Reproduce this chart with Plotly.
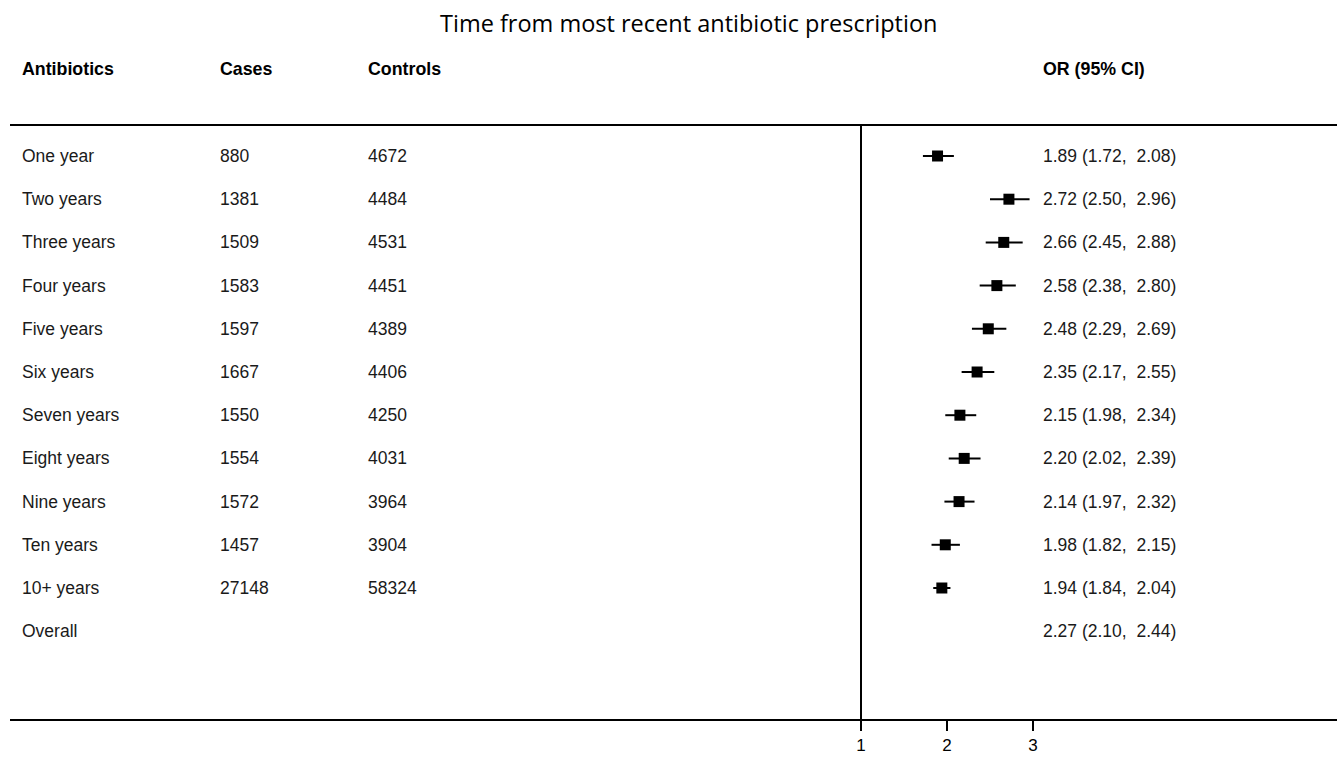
import plotly.graph_objects as go

labels = ["One year", "Two years", "Three years", "Four years", "Five years", "Six years",
          "Seven years", "Eight years", "Nine years", "Ten years", "10+ years", "Overall"]
cases = ["880", "1381", "1509", "1583", "1597", "1667", "1550", "1554", "1572", "1457", "27148", ""]
controls = ["4672", "4484", "4531", "4451", "4389", "4406", "4250", "4031", "3964", "3904", "58324", ""]
or_est = [1.89, 2.72, 2.66, 2.58, 2.48, 2.35, 2.15, 2.20, 2.14, 1.98, 1.94, 2.27]
ci_lo = [1.72, 2.50, 2.45, 2.38, 2.29, 2.17, 1.98, 2.02, 1.97, 1.82, 1.84, 2.10]
ci_hi = [2.08, 2.96, 2.88, 2.80, 2.69, 2.55, 2.34, 2.39, 2.32, 2.15, 2.04, 2.44]
headers = ["Antibiotics", "Cases", "Controls", "OR (95% CI)"]
tick_vals = [1, 2, 3]

W, H = 1341, 758
ml, mr, mt, mb = 10, 4, 125, 39
pw = W - ml - mr
ph = H - mt - mb
px_per_unit = 86.0
x_lo = 1 - (861 - ml) / px_per_unit
x_hi = x_lo + pw / px_per_unit
row_h = 43.2
y_top = -(156 - mt) / row_h
y_bot = y_top + ph / row_h

def px_to_paper_x(px):
    return (px - ml) / pw

def px_to_paper_y(py):
    return (H - mb - py) / ph

n_pts = 11
rows = list(range(len(labels)))
fig = go.Figure()
fig.add_trace(go.Scatter(
    x=or_est[:n_pts], y=rows[:n_pts], mode="markers",
    marker=dict(symbol="square", size=11, color="black"),
    error_x=dict(type="data", symmetric=False,
                 array=[h - o for h, o in zip(ci_hi[:n_pts], or_est[:n_pts])],
                 arrayminus=[o - l for o, l in zip(or_est[:n_pts], ci_lo[:n_pts])],
                 width=0, thickness=2, color="black"),
    showlegend=False, hoverinfo="skip"))

FAM = "Liberation Sans, Arial, sans-serif"
font = dict(family=FAM, size=17.5, color="#1a1a1a")
ann = []
col_px = [20, 218, 366, 1041]
for i, lab in enumerate(labels):
    ortxt = f"{or_est[i]:.2f} ({ci_lo[i]:.2f},  {ci_hi[i]:.2f})"
    for cx, t in zip(col_px, [lab, cases[i], controls[i], ortxt]):
        if t:
            ann.append(dict(x=px_to_paper_x(cx), xref="paper", y=i, yref="y", text=t,
                            showarrow=False, xanchor="left", yanchor="middle", font=font))
for cx, t in zip(col_px, headers):
    ann.append(dict(x=px_to_paper_x(cx), xref="paper", y=px_to_paper_y(69), yref="paper",
                    text=f"<b>{t}</b>", showarrow=False, xanchor="left", yanchor="middle",
                    font=dict(family=FAM, size=17.8, color="black")))
ann.append(dict(x=px_to_paper_x(688), xref="paper", y=px_to_paper_y(23), yref="paper",
                text="Time from most recent antibiotic prescription", showarrow=False,
                xanchor="center", yanchor="middle",
                font=dict(family="Open Sans, Noto Sans, sans-serif", size=23.5, color="black")))

shapes = [
    dict(type="line", xref="paper", yref="paper", x0=0, x1=1, y0=1, y1=1,
         line=dict(color="black", width=2)),
    dict(type="line", xref="x", yref="paper", x0=1, x1=1, y0=0, y1=1,
         line=dict(color="black", width=2)),
]

fig.update_layout(
    width=W, height=H, margin=dict(l=ml, r=mr, t=mt, b=mb),
    paper_bgcolor="white", plot_bgcolor="white",
    annotations=ann, shapes=shapes,
    xaxis=dict(range=[x_lo, x_hi], showgrid=False, zeroline=False,
               showline=True, linecolor="black", linewidth=2,
               tickmode="array", tickvals=tick_vals, ticktext=[str(v) for v in tick_vals],
               ticks="outside", ticklen=10, tickwidth=2, tickcolor="black",
               tickfont=dict(family=FAM, size=17, color="black")),
    yaxis=dict(range=[y_bot, y_top], showgrid=False, zeroline=False, showline=False,
               showticklabels=False, ticks=""),
)
fig.write_html("out.html")
